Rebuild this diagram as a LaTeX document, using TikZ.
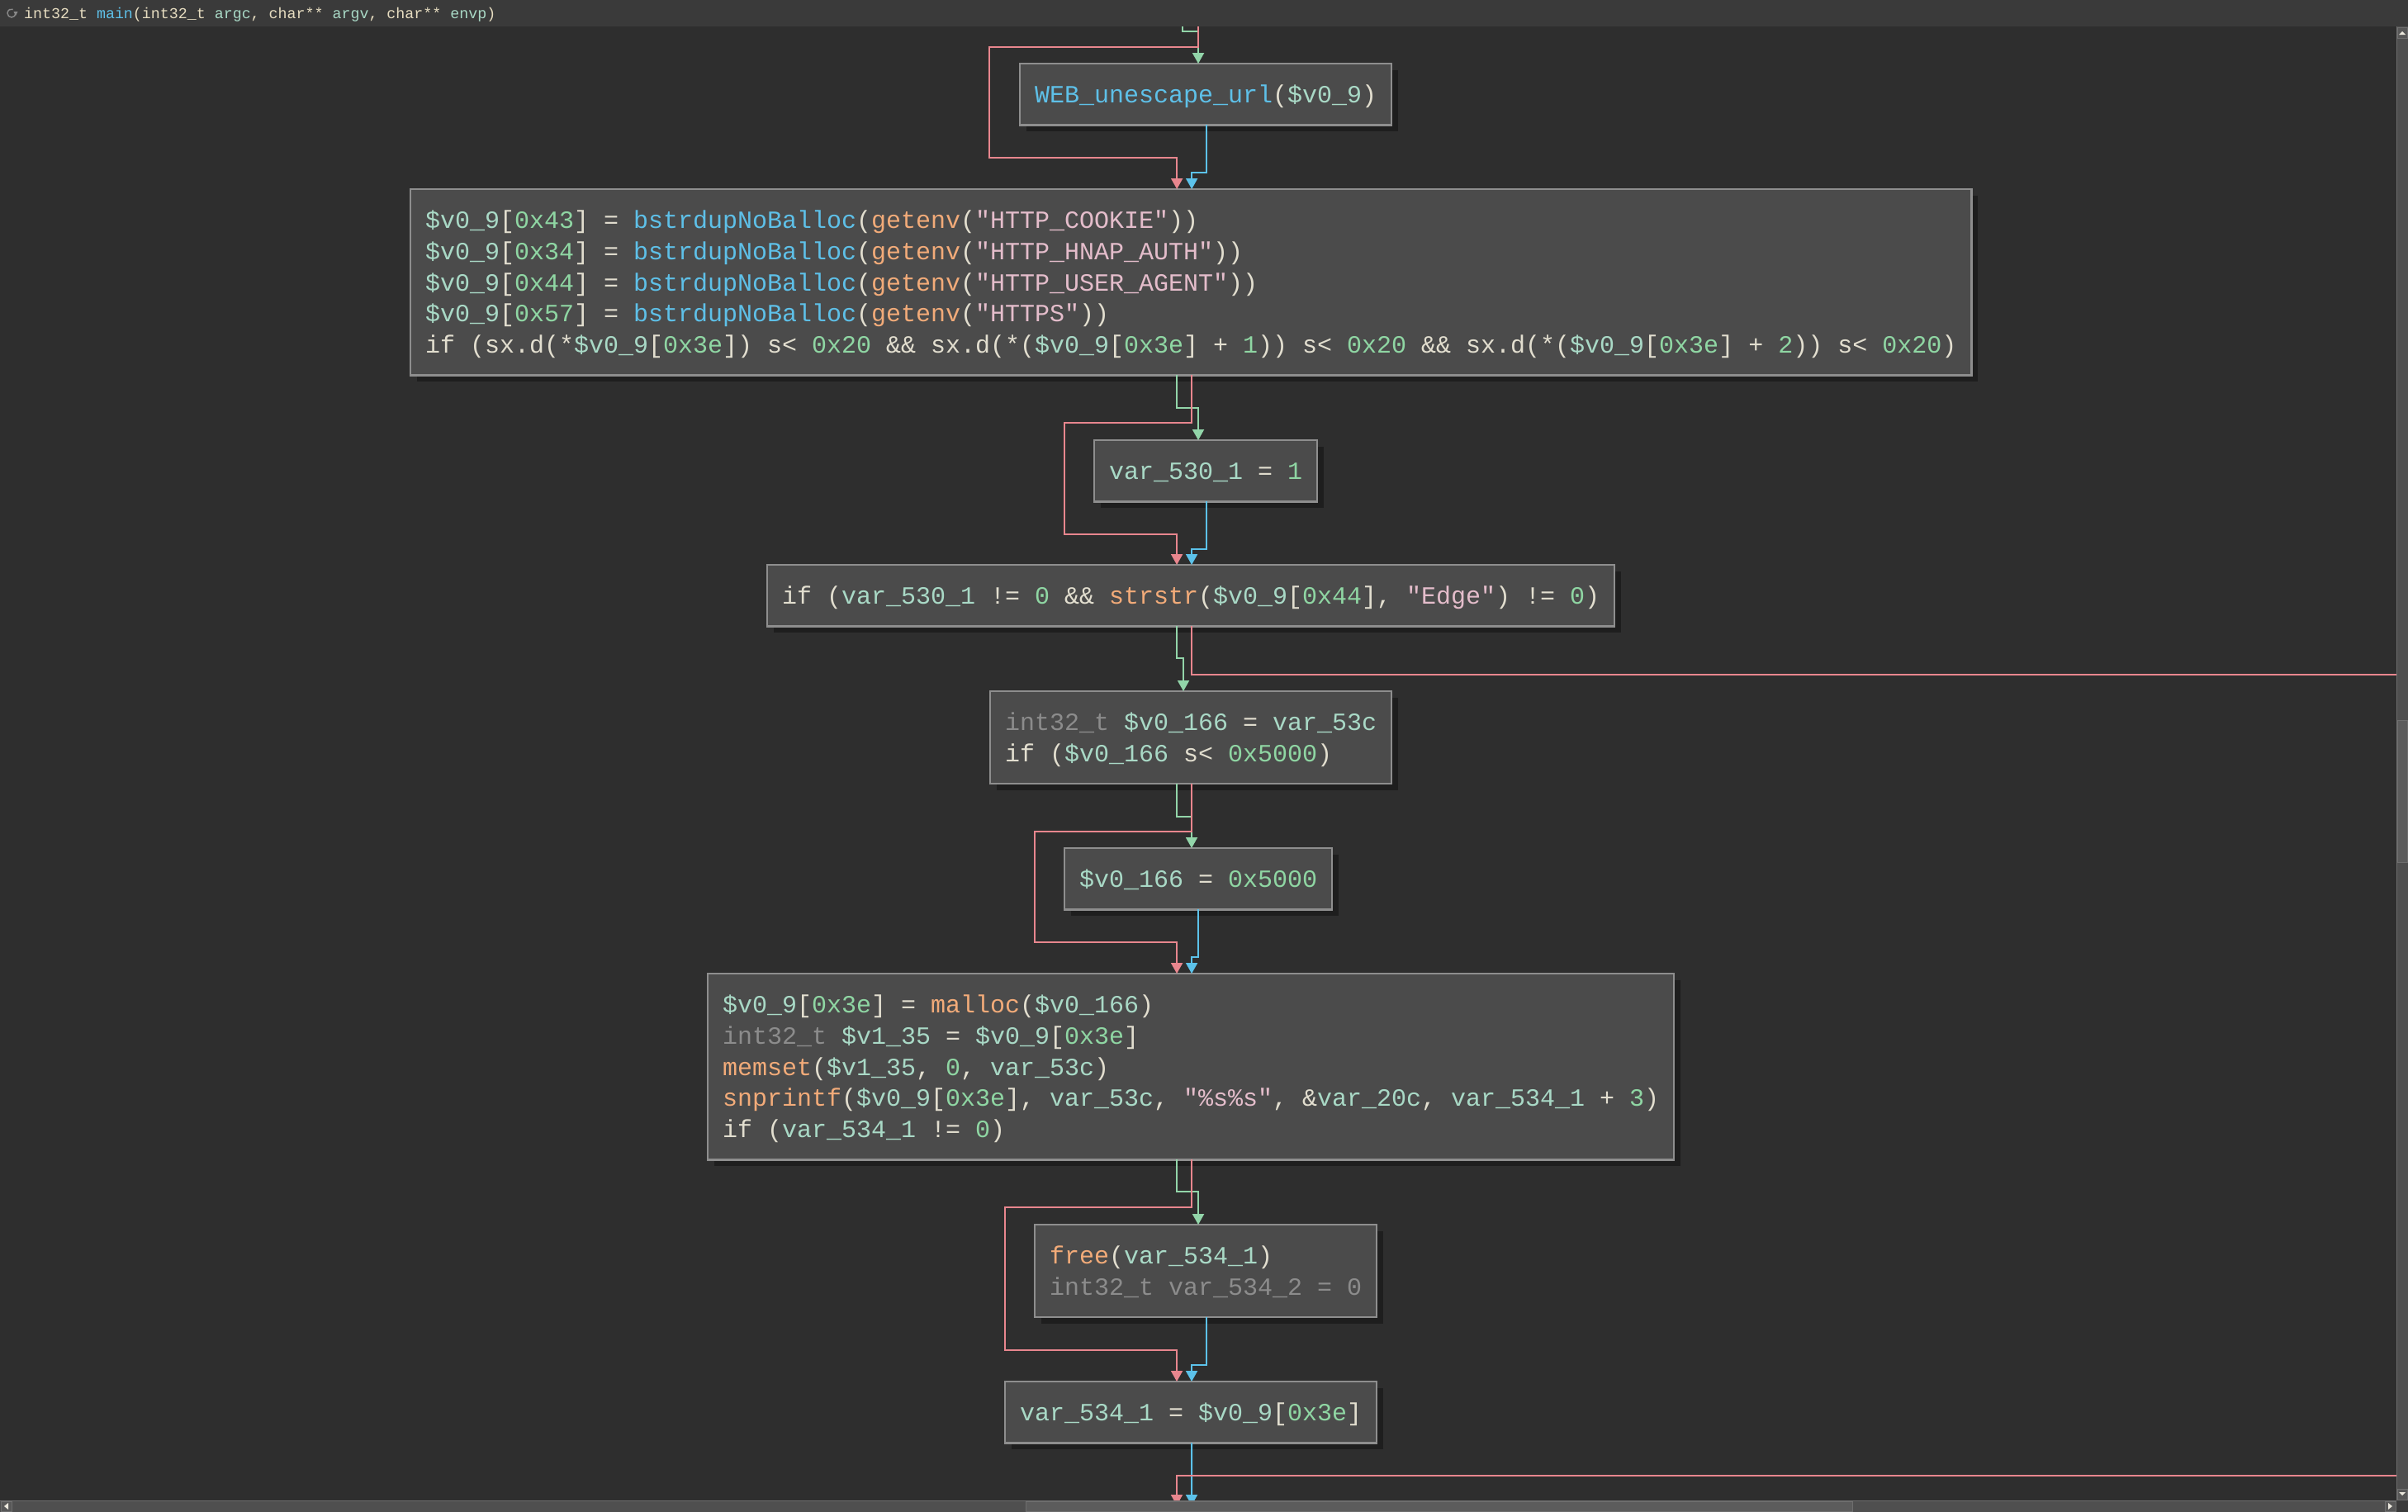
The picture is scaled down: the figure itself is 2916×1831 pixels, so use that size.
\documentclass[tikz,border=0pt]{standalone}
\usepackage{fontspec}
\usetikzlibrary{arrows.meta,calc,shadows}
\newfontfamily\codefont{Liberation Mono}
\definecolor{cbg}{HTML}{2E2E2E}
\definecolor{ctitle}{HTML}{3A3A3A}
\definecolor{cbox}{HTML}{4B4B4B}
\definecolor{cbord}{HTML}{8E8E8E}
\definecolor{cshad}{HTML}{1E1E1E}
\definecolor{ctxt}{HTML}{E2DECF}
\definecolor{cttl}{HTML}{E6DCC0}
\definecolor{cvar}{HTML}{A9D9C6}
\definecolor{cnum}{HTML}{8FD6A3}
\definecolor{cfun}{HTML}{5EC0E8}
\definecolor{cimp}{HTML}{F2AB79}
\definecolor{cstr}{HTML}{E4BDCB}
\definecolor{ctyp}{HTML}{8C8C8C}
\definecolor{cgreen}{HTML}{92D5A9}
\definecolor{cred}{HTML}{E8868E}
\definecolor{cblue}{HTML}{5CC2EA}
\definecolor{csbtrack}{HTML}{4F4F4F}
\definecolor{csbthumb}{HTML}{5C5C5C}
\definecolor{csbedge}{HTML}{6E6E6E}
\definecolor{csbbtn}{HTML}{585858}
\definecolor{csbcorner}{HTML}{3A3A3A}
\definecolor{cicon}{HTML}{8A8A8A}
\newcommand\tokV[1]{\textcolor{cvar}{#1}}
\newcommand\tokN[1]{\textcolor{cnum}{#1}}
\newcommand\tokF[1]{\textcolor{cfun}{#1}}
\newcommand\tokI[1]{\textcolor{cimp}{#1}}
\newcommand\tokS[1]{\textcolor{cstr}{#1}}
\newcommand\tokY[1]{\textcolor{ctyp}{#1}}
\newcommand\ls{\rule[-8.3pt]{0pt}{37.75pt}}
\frenchspacing
\tikzset{
  blk/.style={draw=cbord, line width=2.5pt, fill=cbox, inner xsep=18pt, inner ysep=0pt,
    outer sep=0pt, align=left, anchor=north west, text=ctxt,
    font=\codefont\fontsize{30}{37.75}\selectfont,
    drop shadow={shadow xshift=8pt, shadow yshift=-8pt, fill=cshad, opacity=1}},
  tip/.style={-{Triangle[width=14pt,length=13pt]}},
  eg/.style={draw=cgreen, line width=2pt, tip},
  er/.style={draw=cred, line width=2pt, tip},
  eb/.style={draw=cblue, line width=2pt, tip},
  sbtn/.style={fill=csbbtn, draw=csbedge, line width=0.8pt},
}
\begin{document}
\begin{tikzpicture}[x=1pt,y=-1pt]
\useasboundingbox (0,0) rectangle (2916,1831);
\fill[cbg] (0,0) rectangle (2916,1831);

% blocks
\node[blk, minimum width=450pt, minimum height=74.25pt] (web) at (1235,77)
  {\ls\tokF{WEB\_unescape\_url}(\tokV{\$v0\_9})};
\node[blk, minimum width=1890pt, minimum height=225.25pt] (big) at (497,229)
  {\ls\tokV{\$v0\_9}[\tokN{0x43}] = \tokF{bstrdupNoBalloc}(\tokI{getenv}(\tokS{"HTTP\_COOKIE"}))\\
   \ls\tokV{\$v0\_9}[\tokN{0x34}] = \tokF{bstrdupNoBalloc}(\tokI{getenv}(\tokS{"HTTP\_HNAP\_AUTH"}))\\
   \ls\tokV{\$v0\_9}[\tokN{0x44}] = \tokF{bstrdupNoBalloc}(\tokI{getenv}(\tokS{"HTTP\_USER\_AGENT"}))\\
   \ls\tokV{\$v0\_9}[\tokN{0x57}] = \tokF{bstrdupNoBalloc}(\tokI{getenv}(\tokS{"HTTPS"}))\\
   \ls if (sx.d(*\tokV{\$v0\_9}[\tokN{0x3e}]) s< \tokN{0x20} \&\& sx.d(*(\tokV{\$v0\_9}[\tokN{0x3e}] + \tokN{1})) s< \tokN{0x20} \&\& sx.d(*(\tokV{\$v0\_9}[\tokN{0x3e}] + \tokN{2})) s< \tokN{0x20})};
\node[blk, minimum width=270pt, minimum height=74.25pt] (v530) at (1325,533)
  {\ls\tokV{var\_530\_1} = \tokN{1}};
\node[blk, minimum width=1026pt, minimum height=74.25pt] (ifb) at (929,684)
  {\ls if (\tokV{var\_530\_1} != \tokN{0} \&\& \tokI{strstr}(\tokV{\$v0\_9}[\tokN{0x44}], \tokS{"Edge"}) != \tokN{0})};
\node[blk, minimum width=486pt, minimum height=112pt] (intb) at (1199,837)
  {\ls\tokY{int32\_t} \tokV{\$v0\_166} = \tokV{var\_53c}\\
   \ls if (\tokV{\$v0\_166} s< \tokN{0x5000})};
\node[blk, minimum width=324pt, minimum height=74.25pt] (v166) at (1289,1027)
  {\ls\tokV{\$v0\_166} = \tokN{0x5000}};
\node[blk, minimum width=1170pt, minimum height=225.25pt] (mal) at (857,1179)
  {\ls\tokV{\$v0\_9}[\tokN{0x3e}] = \tokI{malloc}(\tokV{\$v0\_166})\\
   \ls\tokY{int32\_t} \tokV{\$v1\_35} = \tokV{\$v0\_9}[\tokN{0x3e}]\\
   \ls\tokI{memset}(\tokV{\$v1\_35}, \tokN{0}, \tokV{var\_53c})\\
   \ls\tokI{snprintf}(\tokV{\$v0\_9}[\tokN{0x3e}], \tokV{var\_53c}, \tokS{"\%s\%s"}, \&\tokV{var\_20c}, \tokV{var\_534\_1} + \tokN{3})\\
   \ls if (\tokV{var\_534\_1} != \tokN{0})};
\node[blk, minimum width=414pt, minimum height=112pt] (freeb) at (1253,1483)
  {\ls\tokI{free}(\tokV{var\_534\_1})\\
   \ls\tokY{int32\_t var\_534\_2 = 0}};
\node[blk, minimum width=450pt, minimum height=74.25pt] (v534) at (1217,1673)
  {\ls\tokV{var\_534\_1} = \tokV{\$v0\_9}[\tokN{0x3e}]};

% free ends of connectors
\coordinate (tg) at (1432,20);
\coordinate (tr) at (1451,20);
\coordinate (ro1) at (2912,817);
\coordinate (ri) at (2912,1787);
\coordinate (bb) at (1443,1823);
\coordinate (br) at (1425,1823);

% green edges
\draw[eg] (tg) -- ++(0,18) -| ($(web.north)+(-9,0)$);
\draw[eg] ($(big.south)+(-17,0)$) -- ++(0,40) -| ($(v530.north)+(-9,0)$);
\draw[eg] ($(ifb.south)+(-17,0)$) -- ++(0,39) -| ($(intb.north)+(-9,0)$);
\draw[eg] ($(intb.south)+(-17,0)$) -- ++(0,40) -| ($(v166.north)+(-8,0)$);
\draw[eg] ($(mal.south)+(-17,0)$) -- ++(0,39) -| ($(freeb.north)+(-9,0)$);

% blue edges
\draw[eb] ($(web.south)+(1,0)$) -- ++(0,58) -| ($(big.north)+(1,0)$);
\draw[eb] ($(v530.south)+(1,0)$) -- ++(0,58) -| ($(ifb.north)+(1,0)$);
\draw[eb] (v166.south) -- ++(0,58) -| ($(mal.north)+(1,0)$);
\draw[eb] ($(freeb.south)+(1,0)$) -- ++(0,58) -| ($(v534.north)+(1,0)$);
\draw[eb] ($(v534.south)+(1,0)$) -- (bb);

% red edges
\draw[er] (tr) -- ++(0,37) -- ++(-253,0) -- ++(0,134) -| ($(big.north)+(-17,0)$);
\draw[er] ($(big.south)+(1,0)$) -- ++(0,58) -- ++(-154,0) -- ++(0,135) -| ($(ifb.north)+(-17,0)$);
\draw[er,-] ($(ifb.south)+(1,0)$) |- (ro1);
\draw[er] ($(intb.south)+(1,0)$) -- ++(0,58) -- ++(-190,0) -- ++(0,134) -| ($(mal.north)+(-17,0)$);
\draw[er] ($(mal.south)+(1,0)$) -- ++(0,58) -- ++(-226,0) -- ++(0,173) -| ($(v534.north)+(-17,0)$);
\draw[er] (ri) -| (br);

% title bar
\fill[ctitle] (0,0) rectangle (2916,32);
\draw[cicon, line width=1.4pt] (19,16) arc[start angle=0, end angle=290, radius=5];
\fill[cicon] (19,19) -- (16.5,14) -- (21.5,14) -- cycle;
\node[anchor=base west, inner sep=0pt, text=cttl, font=\codefont\fontsize{18.3}{20}\selectfont] (ttl) at (29,22)
  {int32\_t \tokF{main}(int32\_t \tokV{argc}, char** \tokV{argv}, char** \tokV{envp})};

% right scrollbar
\fill[csbtrack] (2902,32) rectangle (2916,1817);
\draw[csbedge, line width=0.8pt] (2902.4,32) -- (2902.4,1817);
\draw[sbtn] (2903,33) rectangle (2915,46);
\fill[ctxt!70] (2905,42) -- (2913,42) -- (2909,38) -- cycle;
\draw[sbtn, fill=csbthumb] (2903,872) rectangle (2915,1044);
\draw[sbtn] (2903,1803) rectangle (2915,1816);
\fill[ctxt!70] (2905,1807) -- (2913,1807) -- (2909,1811) -- cycle;

% bottom scrollbar
\fill[csbtrack] (0,1817) rectangle (2902,1831);
\draw[csbedge, line width=0.8pt] (0,1817.4) -- (2902,1817.4);
\draw[sbtn] (1,1818) rectangle (14,1830);
\fill[ctxt!70] (5,1824) -- (10,1820) -- (10,1828) -- cycle;
\draw[sbtn, fill=csbthumb] (1242,1818.5) rectangle (2243,1830);
\draw[sbtn] (2888,1818) rectangle (2901,1830);
\fill[ctxt!70] (2897,1824) -- (2892,1820) -- (2892,1828) -- cycle;
\fill[csbcorner] (2902,1817) rectangle (2916,1831);
\end{tikzpicture}
\end{document}
